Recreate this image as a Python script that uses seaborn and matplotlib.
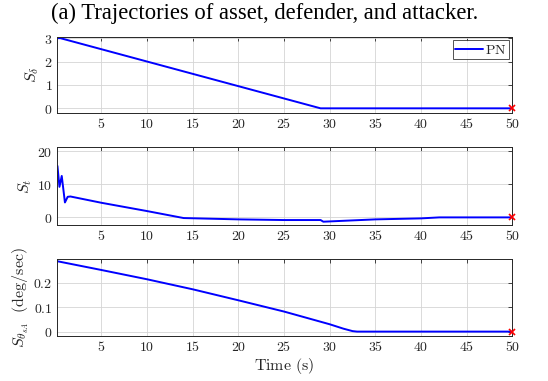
import numpy as np
import pandas as pd
import matplotlib
matplotlib.use("Agg")
import matplotlib.pyplot as plt
import seaborn as sns
from matplotlib.ticker import FuncFormatter
from matplotlib import font_manager

# ---- data ----
t_delta = [0.15, 0.5, 29.0, 50.0]
s_delta = [3.0, 3.0, 0.0, 0.0]

t_t = [0.18, 0.4, 0.65, 1.0, 1.3, 1.6, 5, 10, 14, 20, 25, 29, 29.3, 35, 40, 42, 50]
s_t = [15.5, 9.2, 12.5, 4.5, 6.2, 6.3, 4.4, 1.9, -0.2, -0.6, -0.8, -0.8, -1.3, -0.6, -0.3, 0.0, 0.0]

t_theta = [0.15, 5, 10, 15, 20, 25, 30, 31.5, 32.5, 33, 50]
s_theta = [0.288, 0.252, 0.214, 0.173, 0.128, 0.082, 0.030, 0.012, 0.002, 0.0, 0.0]

x_ticks = [5, 10, 15, 20, 25, 30, 35, 40, 45, 50]
y_ticks = [[0, 1, 2, 3], [0, 10, 20], [0, 0.1, 0.2]]
y_labels = [r"$S_{\delta}$", r"$S_{t}$", r"$S_{\theta_{sA}}\ \ \mathrm{(deg/sec)}$"]
y_lims = [(-0.2, 3.05), (-2.3, 21.3), (-0.018, 0.297)]
legend_label = "PN"
title = "(a) Trajectories of asset, defender, and attacker."

sns.set_theme(style="white")
plt.rcParams["mathtext.fontset"] = "cm"

serif_font = None
for cand in ["Liberation Serif", "Times New Roman", "Nimbus Roman", "DejaVu Serif"]:
    try:
        path = font_manager.findfont(font_manager.FontProperties(family=cand),
                                     fallback_to_default=False)
        serif_font = font_manager.FontProperties(fname=path)
        break
    except Exception:
        continue

fig = plt.figure(figsize=(5.48, 3.81), dpi=100)
left, width = 0.1035, 0.8314
boxes = [(0.7034, 0.1995), (0.4094, 0.2055), (0.1181, 0.2021)]
series = [(t_delta, s_delta), (t_t, s_t), (t_theta, s_theta)]

fmt = FuncFormatter(lambda v, p: f"${v:g}$")

for i, ((b, h), (tx, sy)) in enumerate(zip(boxes, series)):
    ax = fig.add_axes([left, b, width, h])
    df = pd.DataFrame({"t": tx, "s": sy})
    sns.lineplot(data=df, x="t", y="s", ax=ax, color=(0, 0, 1), linewidth=1.4,
                 label=legend_label if i == 0 else None, legend=(i == 0))
    ax.plot([tx[-1]], [sy[-1]], marker="x", color="red", markersize=4, mew=1.2, clip_on=False, zorder=5)
    ax.set_xlim(0.1, 50)
    ax.set_ylim(*y_lims[i])
    ax.set_xticks(x_ticks)
    ax.set_yticks(y_ticks[i])
    ax.xaxis.set_major_formatter(fmt)
    ax.yaxis.set_major_formatter(fmt)
    ax.grid(True, color="#d4d4d4", linewidth=0.6)
    ax.tick_params(direction="in", top=True, right=True, length=3, width=0.6,
                   labelsize=10, colors="#262626", pad=3)
    for sp in ax.spines.values():
        sp.set_color("#262626")
        sp.set_linewidth(0.7)
    ax.set_ylabel(y_labels[i], fontsize=11.5, color="#262626", labelpad=2)
    if i == 2:
        ax.set_xlabel(r"$\mathrm{Time\ (s)}$", fontsize=11.5, color="#262626", labelpad=1)
    else:
        ax.set_xlabel("")
    if i == 0:
        leg = ax.legend(loc="upper right", fontsize=10, frameon=True, fancybox=False,
                        edgecolor="#262626", borderpad=0.15, handlelength=2.0,
                        handletextpad=0.15, borderaxespad=0.25)
        leg.get_frame().set_linewidth(0.7)
        for txt in leg.get_texts():
            txt.set_text(r"$\mathrm{PN}$")

tprops = serif_font.copy() if serif_font is not None else font_manager.FontProperties(family="serif")
tprops.set_size(16.3)
fig.text(0.482, 0.966, title, ha="center", va="center", color="black", fontproperties=tprops)

fig.savefig("out.png", dpi=100)
